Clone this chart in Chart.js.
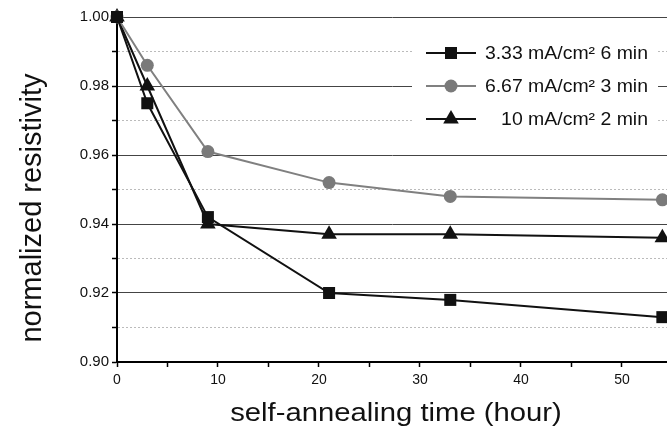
<!DOCTYPE html>
<html>
<head>
<meta charset="utf-8">
<script src="https://cdn.jsdelivr.net/npm/chart.js@4"></script>
<style>
  html, body { margin: 0; padding: 0; background: #fff; }
  #wrap { width: 667px; height: 428px; }
</style>
</head>
<body>
<div id="wrap"><canvas id="myChart" width="667" height="428"></canvas></div>
<script>
// hours of self-annealing
const times = [0, 3, 9, 21, 33, 54];

const labels = ['3.33 mA/cm² 6 min', '6.67 mA/cm² 3 min', '10 mA/cm² 2 min'];
const sq = [1.000, 0.975, 0.942, 0.920, 0.918, 0.913];
const circ = [1.000, 0.986, 0.961, 0.952, 0.948, 0.947];
const tri = [1.000, 0.980, 0.940, 0.937, 0.937, 0.936];

const yTitle = 'normalized resistivity';
const xTitle = 'self-annealing time (hour)';

const FONT = '"Liberation Sans", Arial, Helvetica, sans-serif';

function pts(ys) {
  return times.map((t, i) => ({ x: t, y: ys[i] }));
}

const ds = [
  { label: labels[0], data: pts(sq), borderColor: '#111', backgroundColor: '#111',
    pointStyle: 'rect', pointRadius: 8.5 },
  { label: labels[1], data: pts(circ), borderColor: '#808080', backgroundColor: '#7a7a7a',
    pointStyle: 'circle', pointRadius: 6.5 },
  { label: labels[2], data: pts(tri), borderColor: '#111', backgroundColor: '#111',
    pointStyle: 'triangle', pointRadius: 9 }
];
ds.forEach(d => {
  d.borderWidth = 2;
  d.pointBorderWidth = 0;
  d.pointHoverRadius = d.pointRadius;
  d.tension = 0;
  d.clip = false;
});

// legend drawn inside the plot: line - marker - line, then text
// axis titles drawn here too (the scan is a little wider than tall)
const legendBox = {
  id: 'legendBox',
  afterDraw(chart) {
    const c = chart.ctx;
    c.save();
    c.fillStyle = '#fff';
    c.fillRect(412, 35, 246, 100);
    c.font = '18px ' + FONT;
    c.textBaseline = 'middle';
    c.textAlign = 'right';
    chart.data.datasets.forEach((d, i) => {
      const y = 53 + i * 33;
      c.strokeStyle = d.borderColor;
      c.lineWidth = 2;
      c.beginPath();
      c.moveTo(426, y);
      c.lineTo(476, y);
      c.stroke();
      c.fillStyle = d.backgroundColor;
      const r = d.pointRadius;
      c.beginPath();
      if (d.pointStyle === 'rect') {
        const s = r * Math.SQRT1_2;
        c.rect(451 - s, y - s, 2 * s, 2 * s);
      } else if (d.pointStyle === 'circle') {
        c.arc(451, y, r, 0, Math.PI * 2);
      } else {
        c.moveTo(451, y - r);
        c.lineTo(451 + r * 0.866, y + r * 0.5);
        c.lineTo(451 - r * 0.866, y + r * 0.5);
        c.closePath();
      }
      c.fill();
      c.fillStyle = '#111';
      c.save();
      c.translate(648, y + 1);
      c.scale(1.08, 1);
      c.fillText(d.label, 0, 0);
      c.restore();
    });

    c.fillStyle = '#111';
    c.textAlign = 'center';

    c.save();
    c.translate(33, 208);
    c.rotate(-Math.PI / 2);
    c.font = '29px ' + FONT;
    c.fillText(yTitle, 0, 0);
    c.restore();

    c.save();
    c.translate(396, 421);
    c.scale(1.1, 1);
    c.textBaseline = 'alphabetic';
    c.font = '26.6px ' + FONT;
    c.fillText(xTitle, 0, 0);
    c.restore();

    c.restore();
  }
};

const ctx = document.getElementById('myChart').getContext('2d');

const config = {
  type: 'line',
  data: { datasets: ds },
  options: {
    responsive: false,
    animation: false,
    layout: { autoPadding: false, padding: { top: 17, right: 0, left: 0, bottom: 0 } },
    plugins: {
      legend: { display: false },
      tooltip: { enabled: false }
    },
    scales: {
      x: {
        type: 'linear',
        min: 0,
        max: 54.46,
        afterFit(s) { s.height = 66; s.paddingRight = 0; },
        border: { display: true, color: '#000', width: 2 },
        grid: { drawOnChartArea: false, drawTicks: true, tickLength: 5, tickColor: '#000', tickWidth: 1.5 },
        ticks: {
          stepSize: 5,
          includeBounds: false,
          autoSkip: false,
          maxRotation: 0,
          padding: 5,
          color: '#111',
          font: { family: FONT, size: 14 },
          callback: v => (v % 10 === 0 ? String(v) : '')
        },
        title: { display: false }
      },
      y: {
        min: 0.90,
        max: 1.00,
        afterFit(s) { s.width = 117; },
        border: {
          display: true, color: '#000', width: 2,
          dash: c => (Math.round(c.tick.value * 100) % 2 === 0 ? [] : [2, 2])
        },
        grid: {
          drawTicks: true,
          tickLength: 5,
          tickColor: '#000',
          tickWidth: 1.5,
          lineWidth: 1,
          color: c => (Math.round(c.tick.value * 100) % 2 === 0 ? '#444' : '#bbb')
        },
        ticks: {
          stepSize: 0.01,
          autoSkip: false,
          padding: 3,
          color: '#111',
          font: { family: FONT, size: 15 },
          callback: v => (Math.round(v * 100) % 2 === 0 ? v.toFixed(2) : '')
        },
        title: { display: false }
      }
    }
  },
  plugins: [legendBox]
};

var myChart = new Chart(ctx, config);
</script>
</body>
</html>
